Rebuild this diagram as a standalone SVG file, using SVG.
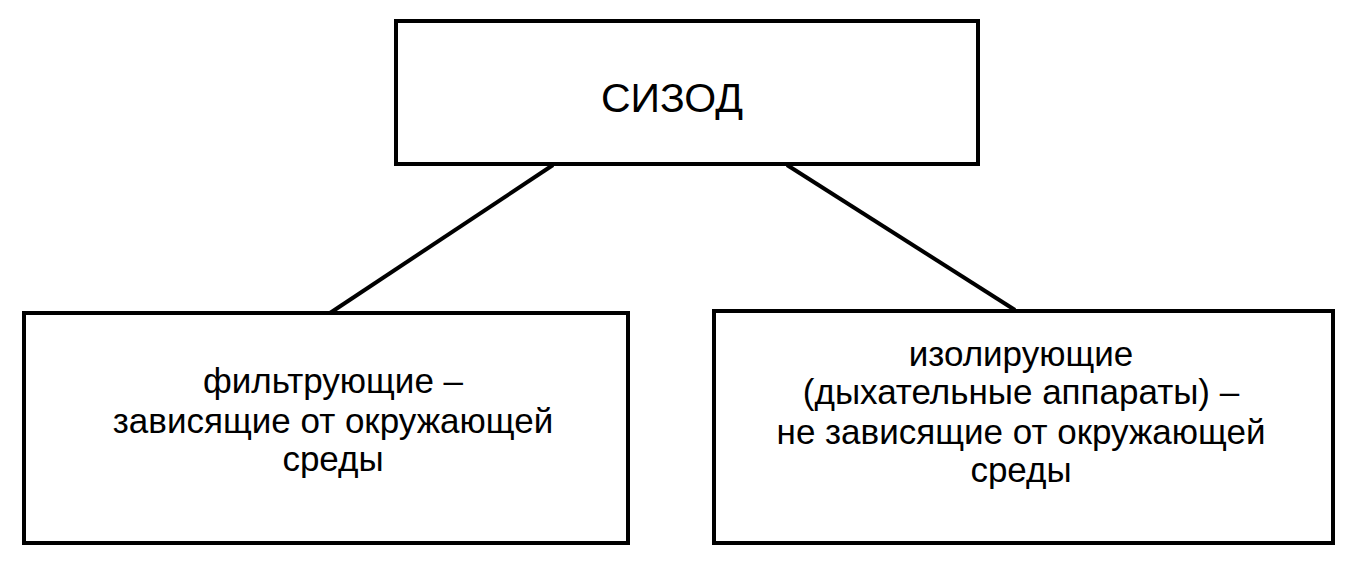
<svg xmlns="http://www.w3.org/2000/svg" width="1349" height="569" viewBox="0 0 1349 569">
<style>
.box{fill:#fff;stroke:#000;stroke-width:4}
.edge{stroke:#000;stroke-width:4;fill:none}
.t{font-family:"Liberation Sans",Arial,sans-serif;fill:#000;text-anchor:middle}
.lbl{font-size:35px}
.title{font-size:41px}
</style>
<rect width="1349" height="569" fill="#fff"/>
<g id="connectors">
<line class="edge" x1="553" y1="165" x2="330" y2="313"/>
<line class="edge" x1="787" y1="165" x2="1015" y2="310"/>
</g>
<g id="node-root">
<rect class="box" x="396" y="21" width="582" height="143"/>
<text class="t title" x="672" y="112">СИЗОД</text>
</g>
<g id="node-filter">
<rect class="box" x="24" y="313" width="604" height="230"/>
<text class="t lbl" x="333" y="393">фильтрующие –</text>
<text class="t lbl" x="333" y="433">зависящие от окружающей</text>
<text class="t lbl" x="333" y="471">среды</text>
</g>
<g id="node-isolating">
<rect class="box" x="714" y="311" width="619" height="232"/>
<text class="t lbl" x="1021" y="366">изолирующие</text>
<text class="t lbl" x="1021" y="404">(дыхательные аппараты) –</text>
<text class="t lbl" x="1021" y="444">не зависящие от окружающей</text>
<text class="t lbl" x="1021" y="482">среды</text>
</g>
</svg>
